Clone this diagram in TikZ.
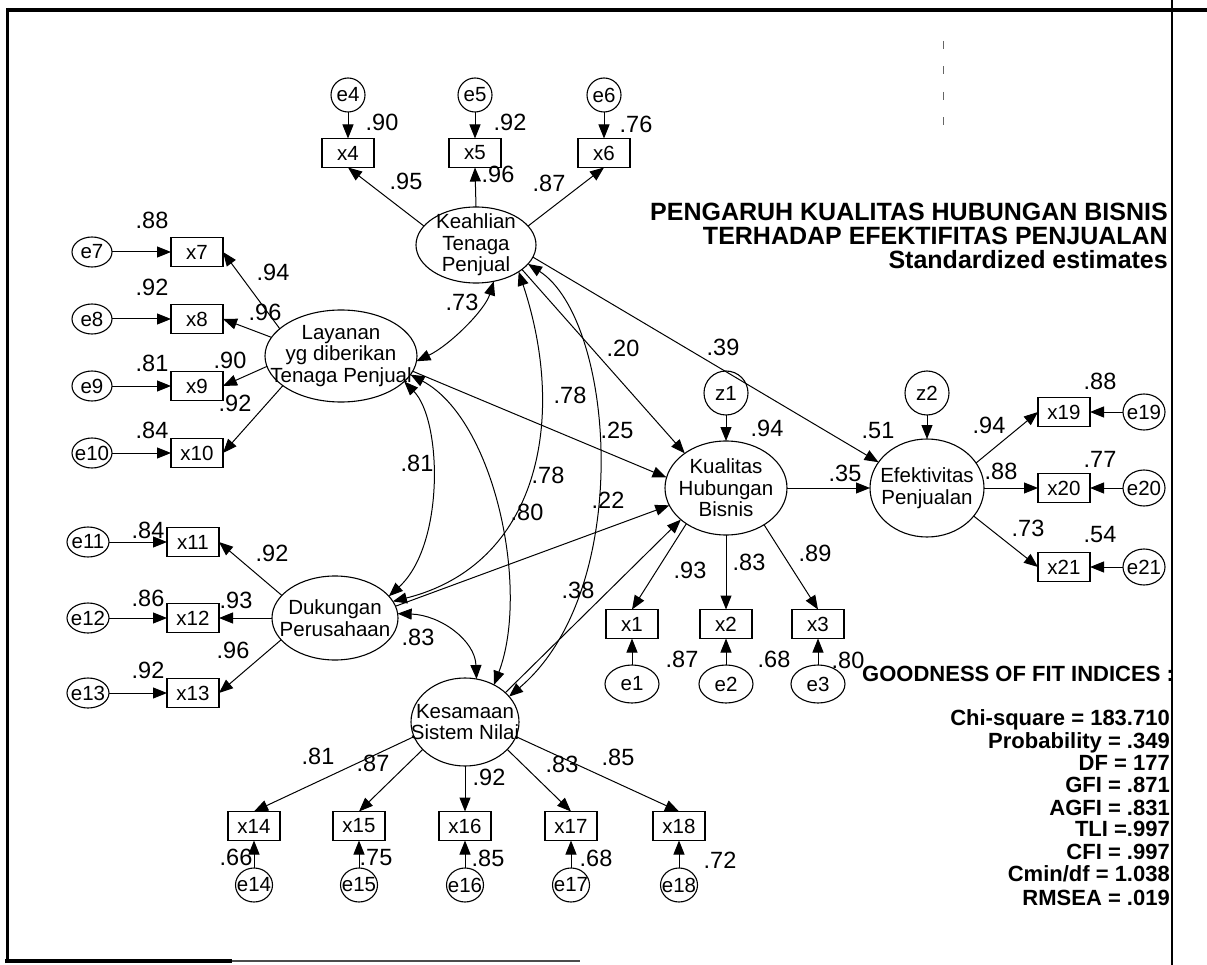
\documentclass[tikz,border=0pt]{standalone}
\usepackage{fontspec}
\setmainfont{Liberation Sans}
\usetikzlibrary{arrows.meta,shapes.geometric}

\tikzset{
  Arr/.tip={Triangle[length=14pt,width=11pt]},
  lat/.style={draw, ellipse, line width=1.1pt, inner sep=0pt, outer sep=0pt},
  nt/.style={font=\fontsize{20.5}{21.5}\selectfont, align=center, inner sep=0pt},
  obs/.style={draw, rectangle, line width=1.2pt, minimum width=52pt, minimum height=29pt,
              inner sep=0pt, outer sep=0pt, font=\fontsize{20.5}{21.5}\selectfont},
  err/.style={draw, ellipse, line width=1.1pt, inner sep=0pt, outer sep=0pt},
  coef/.style={font=\fontsize{23.5}{24}\selectfont, inner sep=0pt},
  pth/.style={line width=1pt, -Arr},
  cov/.style={line width=1pt, Arr-Arr},
  ttl/.style={font=\fontsize{25}{26}\selectfont\bfseries, inner sep=0pt},
  stat/.style={font=\fontsize{22}{23}\selectfont\bfseries, inner sep=0pt, anchor=base east},
}

\begin{document}
\begin{tikzpicture}[x=1pt, y=-1pt]
\fill[white] (0,0) rectangle (1207,965);
\useasboundingbox (0,0) rectangle (1207,965);

% page frame
\draw[line width=4pt] (6,10) -- (1207,10);
\draw[line width=3pt] (7,8) -- (7,962);
\draw[line width=3.5pt] (5,961) -- (232,961);
\draw[line width=1.6pt, black!70] (232,961) -- (580,961);
\draw[line width=1.6pt] (1172,0) -- (1172,965);
\draw[line width=0.8pt, black!60, dash pattern=on 8pt off 17.5pt] (943,41) -- (943,127);

% latent variables
\node[lat, minimum width=120pt, minimum height=76pt,
      label={[nt]center:Keahlian\\Tenaga\\Penjual}] (K) at (476,245) {};
\node[lat, minimum width=152pt, minimum height=92pt,
      label={[nt]center:Layanan\\yg diberikan\\Tenaga Penjual}] (L) at (341,356) {};
\node[lat, minimum width=126pt, minimum height=84pt,
      label={[nt]center:Dukungan\\Perusahaan}] (D) at (335,618) {};
\node[lat, minimum width=108pt, minimum height=88pt,
      label={[nt]center:Kesamaan\\Sistem Nilai}] (S) at (465,722) {};
\node[lat, minimum width=122pt, minimum height=94pt,
      label={[nt]center:Kualitas\\Hubungan\\Bisnis}] (Q) at (726,488) {};
\node[lat, minimum width=114pt, minimum height=98pt,
      label={[nt]center:Efektivitas\\Penjualan}] (E) at (927,488) {};
\node[err, minimum width=44pt, minimum height=44pt,
      label={[nt]center:z1}] (z1) at (726,393) {};
\node[err, minimum width=44pt, minimum height=44pt,
      label={[nt]center:z2}] (z2) at (927,393) {};

% indicators with their error terms
\foreach \i/\x in {4/348, 5/475, 6/604} {
  \node[obs] (x\i) at (\x,153) {x\i};
  \node[err, minimum width=34pt, minimum height=34pt, label={[nt]center:e\i}] (e\i) at (\x,95) {};
  \draw[pth] (e\i) -- (x\i);
}
\foreach \i/\y in {7/252, 8/319, 9/386, 10/453} {
  \node[obs] (x\i) at (197,\y) {x\i};
  \node[err, minimum width=40pt, minimum height=30pt, label={[nt]center:e\i}] (e\i) at (92,\y) {};
  \draw[pth] (e\i) -- (x\i);
}
\foreach \i/\y in {11/542, 12/618, 13/693} {
  \node[obs] (x\i) at (193,\y) {x\i};
  \node[err, minimum width=42pt, minimum height=30pt, label={[nt]center:e\i}] (e\i) at (88,\y) {};
  \draw[pth] (e\i) -- (x\i);
}
\foreach \i/\x in {1/632, 2/726, 3/818} {
  \node[obs] (x\i) at (\x,624) {x\i};
  \node[err, minimum width=54pt, minimum height=38pt, label={[nt]center:e\i}] (e\i) at (\x,684) {};
  \draw[pth] (e\i) -- (x\i);
}
\foreach \i/\y in {19/412, 20/488, 21/567} {
  \node[obs] (x\i) at (1064,\y) {x\i};
  \node[err, minimum width=42pt, minimum height=36pt, label={[nt]center:e\i}] (e\i) at (1144,\y) {};
  \draw[pth] (e\i) -- (x\i);
}
\foreach \i/\x in {14/254, 15/359, 16/465, 17/571, 18/679} {
  \node[obs] (x\i) at (\x,826) {x\i};
  \node[err, minimum width=37pt, minimum height=34pt, label={[nt]center:e\i}] (e\i) at (\x,885) {};
  \draw[pth] (e\i) -- (x\i);
}

% loadings
\draw[pth] (K.160) -- (x4.south);
\draw[pth] (K.90)  -- (x5.south);
\draw[pth] (K.20)  -- (x6.south);
\draw[pth] (L.156) -- (x7.east);
\draw[pth] (L.165) -- (x8.east);
\draw[pth] (L.188) -- (x9.east);
\draw[pth] (L.207) -- (x10.east);
\draw[pth] (D.157) -- (x11.east);
\draw[pth] (D) -- (x12);
\draw[pth] (D.202) -- (x13.east);
\draw[pth] (Q.222) -- (x1.north);
\draw[pth] (Q) -- (x2);
\draw[pth] (Q.316) -- (x3.north);
\draw[pth] (E.27)  -- (x19.west);
\draw[pth] (E) -- (x20);
\draw[pth] (E.-31) -- (x21.west);
\draw[pth] (S.196) -- (x14.north);
\draw[pth] (S.213) -- (x15.north);
\draw[pth] (S) -- (x16);
\draw[pth] (S.327) -- (x17.north);
\draw[pth] (S.344) -- (x18.north);

% structural paths
\draw[pth] (z1) -- (Q);
\draw[pth] (z2) -- (E);
\draw[pth] (Q) -- (E);
\draw[pth] (K.-28) -- (Q.140);
\draw[pth] (K.-12) -- (E.152);
\draw[pth] (L.-12) -- (Q.170);
\draw[pth] (D.11)  -- (Q.197);
\draw[pth] (S.36)  -- (Q.215);

% covariances
\draw[cov] (K.-64) .. controls (485,310) and (450,345) .. (L.-4);
\draw[cov] (K.-32) .. controls (568,420) and (538,565) .. (D.16);
\draw[cov] (K.-20) .. controls (615,320) and (635,590) .. (S.30);
\draw[cov] (L.-22) .. controls (442,420) and (445,545) .. (D.22);
\draw[cov] (L.-15) .. controls (495,420) and (530,590) .. (S.52);
\draw[cov] (D.4)   .. controls (440,615) and (475,640) .. (S.75);

% estimates
\foreach \t/\x/\y [count=\k] in {
  .90/382/122, .92/510/122, .76/636/124, .95/406/181, .96/498/174, .87/549/183,
  .88/152/220, .92/152/287, .81/152/363, .84/152/430, .94/273/272, .96/265/312,
  .90/230/360, .92/235/403,
  .84/148/530, .86/148/598, .92/148/670, .92/272/553, .93/236/600, .96/233/650,
  .73/462/302, .20/623/348, .39/723/347, .78/570/395, .25/617/430, .94/767/428,
  .81/417/463, .78/548/475, .80/527/512, .22/608/500, .38/578/590, .83/418/637,
  .93/690/570, .83/749/562, .89/815/553, .87/682/659, .68/774/659, .80/848/660,
  .51/878/431, .35/845/473, .94/989/425, .88/1001/471, .73/1028/528,
  .88/1100/381, .77/1100/459, .54/1100/535,
  .81/318/756, .87/373/763, .92/489/777, .83/562/764, .85/618/757,
  .66/236/857, .75/376/858, .85/488/858, .68/596/858, .72/720/860} {
  \node[coef] (c\k) at (\x,\y) {\t};
}

% title
\node[ttl, anchor=base east] (t1) at (1168,221) {PENGARUH KUALITAS HUBUNGAN BISNIS};
\node[ttl, anchor=base east] (t2) at (1168,245) {TERHADAP EFEKTIFITAS PENJUALAN};
\node[ttl, anchor=base east] (t3) at (1168,269) {Standardized estimates};

% fit indices
\node[font=\fontsize{22}{23}\selectfont\bfseries, inner sep=0pt, anchor=base west]
  (gof) at (862,681) {GOODNESS OF FIT INDICES :};
\node[stat] (s1) at (1170,725) {Chi-square = 183.710};
\node[stat] (s2) at (1170,748) {Probability = .349};
\node[stat] (s3) at (1170,770) {DF = 177};
\node[stat] (s4) at (1170,792) {GFI = .871};
\node[stat] (s5) at (1170,815) {AGFI = .831};
\node[stat] (s6) at (1170,836) {TLI =.997};
\node[stat] (s7) at (1170,859) {CFI = .997};
\node[stat] (s8) at (1170,881) {Cmin/df = 1.038};
\node[stat] (s9) at (1170,905) {RMSEA = .019};
\end{tikzpicture}
\end{document}
